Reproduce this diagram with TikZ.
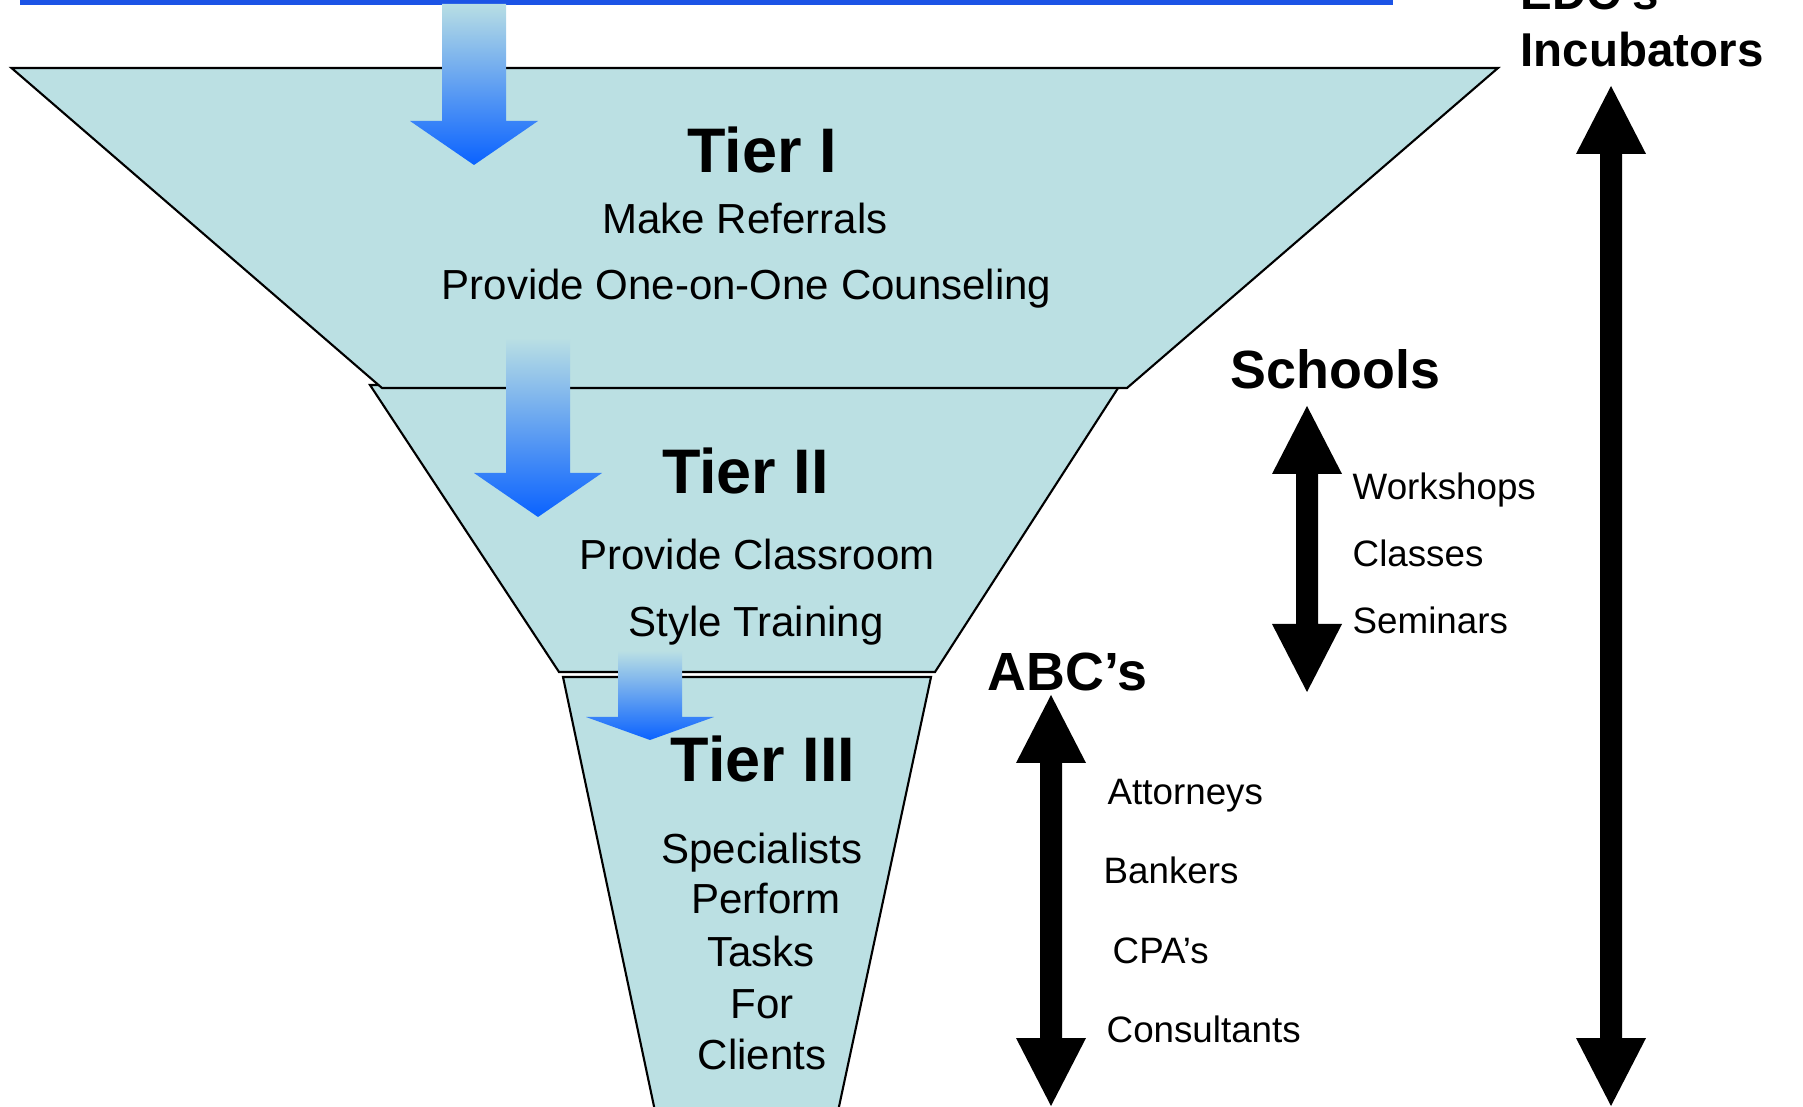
\documentclass[tikz,border=0pt]{standalone}
\usepackage{fontspec}
\setmainfont{Liberation Sans}
\begin{document}
\definecolor{funnelfill}{RGB}{187,224,227}
\definecolor{barblue}{RGB}{28,84,230}
\definecolor{flowtop}{RGB}{184,222,228}
\definecolor{flowbottom}{RGB}{10,98,255}
% two-headed black arrow: x, top tip y, bottom tip y
\newcommand\twowayarrow[3]{%
  \fill[black] (#1,#2) -- (#1+35,#2+68) -- (#1+11,#2+68) -- (#1+11,#3-68)
    -- (#1+35,#3-68) -- (#1,#3) -- (#1-35,#3-68) -- (#1-11,#3-68)
    -- (#1-11,#2+68) -- (#1-35,#2+68) -- cycle;}
% shaded downward flow arrow: centre x, shaft top y, head top y, tip y
\newcommand\flowarrow[4]{%
  \shade[top color=flowtop, bottom color=flowbottom]
    (#1-32,#2) -- (#1+32,#2) -- (#1+32,#3) -- (#1+64,#3) -- (#1,#4)
    -- (#1-64,#3) -- (#1-32,#3) -- cycle;}
\begin{tikzpicture}[x=0.01cm, y=-0.01cm,
  tier/.style={draw=black, line width=0.6pt, fill=funnelfill, line join=miter},
  tiertitle/.style={font=\bfseries\fontsize{17.9pt}{20pt}\selectfont, anchor=base, inner sep=0pt},
  body/.style={font=\fontsize{11.95pt}{14pt}\selectfont, anchor=base, inner sep=0pt},
  grouphead/.style={font=\bfseries\fontsize{15.3pt}{18pt}\selectfont, anchor=base west, inner sep=0pt},
  sidehead/.style={font=\bfseries\fontsize{13.5pt}{16pt}\selectfont, anchor=base west, inner sep=0pt},
  item/.style={font=\fontsize{10.45pt}{12pt}\selectfont, anchor=base west, inner sep=0pt}]
\useasboundingbox (0,0) rectangle (1803,1107);
\clip (0,0) rectangle (1803,1107);

% funnel tiers, bottom to top
\draw[tier] (563,677) -- (931,677) -- (834,1130) -- (659,1130) -- cycle;
\draw[tier] (370,385) -- (1120,385) -- (935,672) -- (559,672) -- cycle;
\draw[tier] (11.5,68) -- (1498,68) -- (1127,388) -- (382,388) -- cycle;

% source bar
\fill[barblue] (19.5,-10) rectangle (1393,5);

% flow arrows
\flowarrow{474}{4}{121}{165}
\flowarrow{538}{340}{473}{517}
\flowarrow{650}{652}{717}{740}

% tier labels
\node[tiertitle] (t1) at (762,173) {Tier I};
\node[body] (t1a) at (745,234) {Make Referrals};
\node[body] (t1b) at (746.5,300) {Provide One-on-One Counseling};

\node[tiertitle] (t2) at (745.5,494) {Tier II};
\node[body] (t2a) at (757,570) {Provide Classroom};
\node[body] (t2b) at (756,637) {Style Training};

\node[tiertitle] (t3) at (763,782) {Tier III};
\node[body] (t3a) at (762,864) {Specialists};
\node[body] (t3b) at (766,914) {Perform};
\node[body] (t3c) at (761,966) {Tasks};
\node[body] (t3d) at (762,1018) {For};
\node[body] (t3e) at (762,1069) {Clients};

% incubators range
\node[sidehead] (edc) at (1520,10) {EDC’s};
\node[sidehead] (inc) at (1520,67) {Incubators};
\twowayarrow{1611}{86}{1106}

% schools range
\node[grouphead] (sch) at (1230,389) {Schools};
\twowayarrow{1307}{406}{692}
\node[item] (s1) at (1352,500) {Workshops};
\node[item] (s2) at (1352,567) {Classes};
\node[item] (s3) at (1352,634) {Seminars};

% ABC's range
\node[grouphead] (abc) at (987,691) {ABC’s};
\twowayarrow{1051}{695}{1106}
\node[item] (a1) at (1107,805) {Attorneys};
\node[item] (a2) at (1103,884) {Bankers};
\node[item] (a3) at (1112,964) {CPA’s};
\node[item] (a4) at (1106,1042) {Consultants};
\end{tikzpicture}
\end{document}
